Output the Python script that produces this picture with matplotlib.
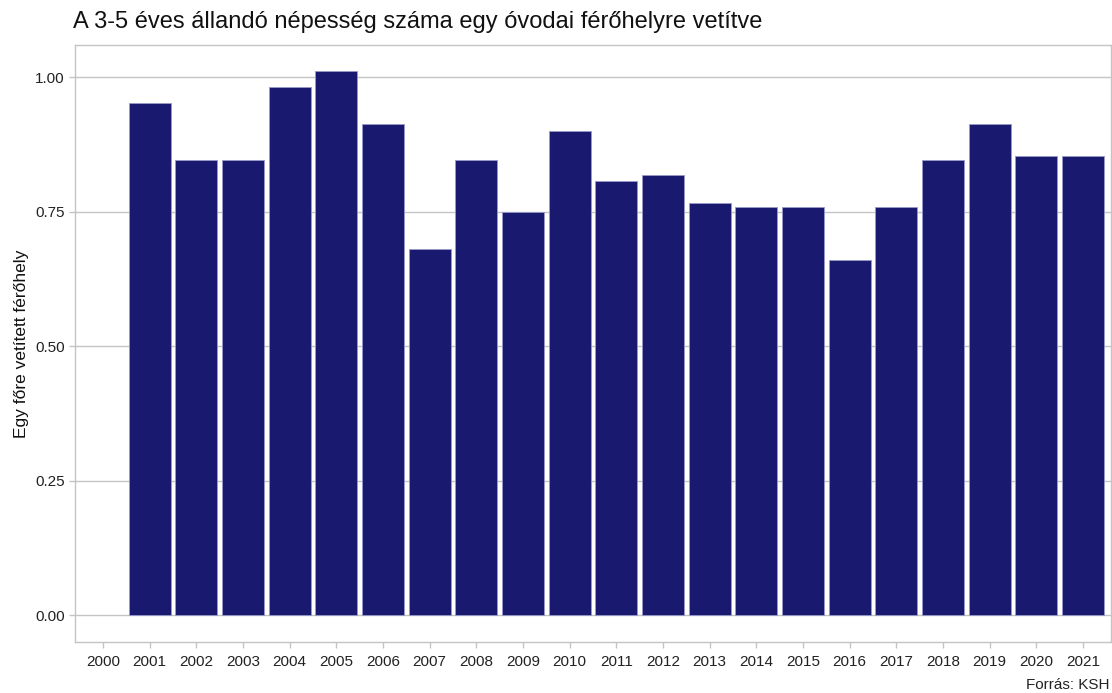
import matplotlib
matplotlib.use("Agg")
import matplotlib.pyplot as plt
import numpy as np

plt.rcParams['font.family'] = ['Liberation Sans', 'DejaVu Sans']

# éves adatok: 3-5 éves népesség / óvodai férőhely
years = list(range(2000, 2022))
bar_years = list(range(2001, 2022))
ratio = [0.952, 0.846, 0.846, 0.981, 1.011, 0.913, 0.680, 0.846, 0.749, 0.900,
         0.807, 0.818, 0.766, 0.758, 0.758, 0.660, 0.758, 0.846, 0.913, 0.853, 0.853]
y_ticks = [0.00, 0.25, 0.50, 0.75, 1.00]

fig = plt.figure(figsize=(11.12, 6.93), dpi=100)
ax = fig.add_axes([75 / 1112, 1 - 642 / 693, 1036 / 1112, 597 / 693])

ax.bar(bar_years, ratio, width=0.9, color='#191970', edgecolor='#9a9ac8',
       linewidth=0.6, zorder=3)

ax.set_xlim(1999.4, 2021.6)
ax.set_ylim(-0.050, 1.0595)
ax.set_xticks(years)
ax.set_xticklabels([str(y) for y in years])
ax.set_yticks(y_ticks)
ax.set_yticklabels([f"{v:.2f}" for v in y_ticks])

ax.grid(axis='y', color='#c4c4c4', linewidth=1.0, zorder=0)
for s in ax.spines.values():
    s.set_color('#c4c4c4')
    s.set_linewidth(1.0)
ax.tick_params(axis='both', colors='#c4c4c4', labelcolor='#222222',
               labelsize=11, length=4, width=1.0)
ax.tick_params(axis='x', pad=5)

ax.set_ylabel("Egy főre vetített férőhely", fontsize=12.5, color='#111111', labelpad=4)
fig.text(73 / 1112, 1 - 22 / 693, "A 3-5 éves állandó népesség száma egy óvodai férőhelyre vetítve",
         fontsize=17, color='#111111', va='center', ha='left')
fig.text(1110 / 1112, 1 - 685 / 693, "Forrás: KSH", fontsize=11, color='#222222',
         ha='right', va='center')

fig.savefig("out.png", dpi=100)
